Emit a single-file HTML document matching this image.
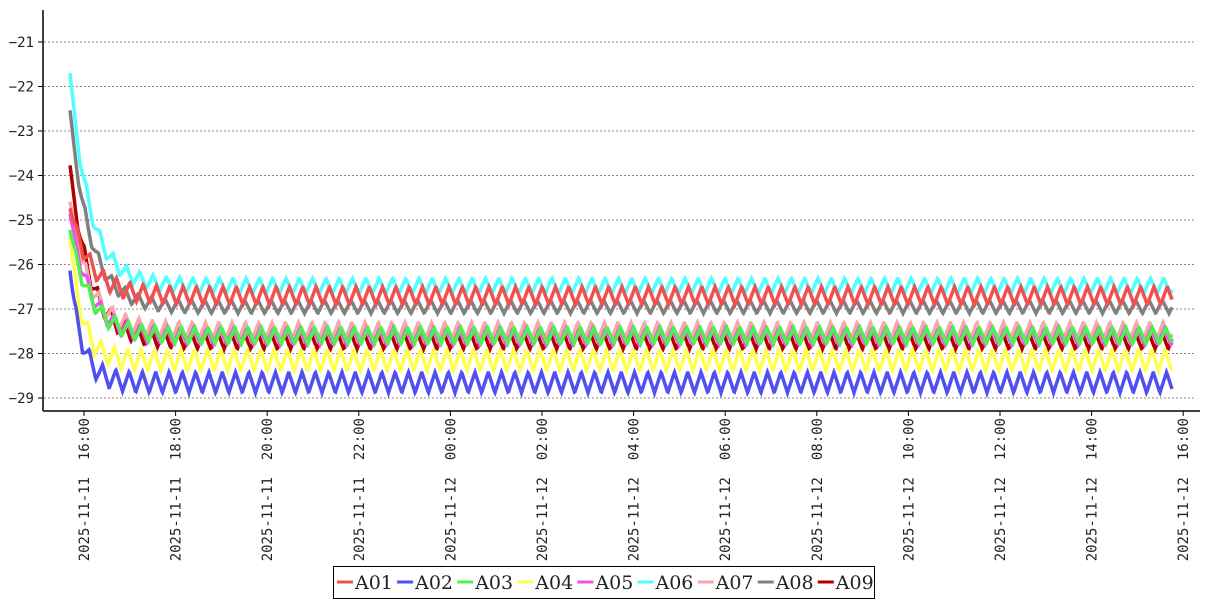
<!DOCTYPE html>
<html><head><meta charset="utf-8"><style>
html,body{margin:0;padding:0;background:#fff;width:1207px;height:600px;overflow:hidden}
svg text{font-family:"DejaVu Sans Mono","Liberation Mono",monospace;font-size:14px;fill:#222;white-space:pre}
</style></head><body>
<svg id="s" width="1207" height="600" xmlns="http://www.w3.org/2000/svg">
<g id="grid"></g>
<g id="series" fill="none" stroke-width="3.5" stroke-linejoin="miter"></g>
<line x1="43" y1="10" x2="43" y2="411" stroke="#000" stroke-width="1.5"/>
<line x1="43" y1="411" x2="1200" y2="411" stroke="#000" stroke-width="1.5"/>
<g id="ticks"></g>
<rect x="333.5" y="566.5" width="541" height="32" fill="#fff" stroke="#000"/>
<g id="legend"></g>
</svg>
<script>
var NS="http://www.w3.org/2000/svg";
function el(t,a,p,txt){var e=document.createElementNS(NS,t);for(var k in a)e.setAttribute(k,a[k]);if(txt!=null)e.textContent=txt;p.appendChild(e);return e;}
var grid=document.getElementById('grid'),ticks=document.getElementById('ticks');
function Y(v){return 42+(-21-v)*44.5;}
for(var v=-21;v>=-29;v--){var y=Y(v);
 el('line',{x1:44,y1:y,x2:1195,y2:y,stroke:'#888','stroke-dasharray':'2,2','stroke-width':1},grid);
 el('line',{x1:38,y1:y,x2:43,y2:y,stroke:'#000'},ticks);
 el('text',{x:34,y:y+5,'text-anchor':'end'},ticks,'\u2212'+(-v));}
var labels=["2025-11-11  16:00","2025-11-11  18:00","2025-11-11  20:00","2025-11-11  22:00","2025-11-12  00:00","2025-11-12  02:00","2025-11-12  04:00","2025-11-12  06:00","2025-11-12  08:00","2025-11-12  10:00","2025-11-12  12:00","2025-11-12  14:00","2025-11-12  16:00"];
for(var i=0;i<13;i++){var x=84+i*91.6;
 el('line',{x1:x,y1:411,x2:x,y2:416,stroke:'#000'},ticks);
 el('text',{x:0,y:0,'text-anchor':'end',transform:'translate('+(x+5)+',418) rotate(-90)'},ticks,labels[i]);}
var S=[
["A01","#f05050",-24.7,-26.7,0.2],
["A02","#5050f0",-26.1,-28.65,0.23],
["A03","#50f050",-25.2,-27.6,0.18],
["A04","#ffff50",-25.4,-28.15,0.23],
["A05","#f050f0",-24.85,-27.62,0.18],
["A06","#50ffff",-21.7,-26.48,0.17],
["A07","#f5aaaa",-24.6,-27.5,0.2],
["A08","#808080",-22.55,-26.95,0.15],
["A09","#b00000",-23.8,-27.7,0.2]];
var sg=document.getElementById('series');
var P=13.3;
var order=[8,7,6,5,4,3,2,1,0];
order.forEach(function(k){var s=S[k];var pts=[];
 for(var x=70;x<=1172;x+=0.5){var u=x-70;
  var tau=(k==1||k==3)?12:20;
  var base=s[3]+(s[2]-s[3])*Math.exp(-u/tau);
  var ph=((u+k*0.7)%P)/P;var tri=ph<0.5?(ph*4-1):(3-ph*4);
  var amp=s[4]*Math.min(1,u/15+0.2);
  var v=base+amp*tri;pts.push(x+','+Y(v).toFixed(1));}
 el('polyline',{points:pts.join(' '),stroke:s[1]},sg);});
var lg=document.getElementById('legend');var lx=337;
S.forEach(function(s){el('line',{x1:lx,y1:582,x2:lx+16,y2:582,stroke:s[1],'stroke-width':3},lg);
 var t=el('text',{x:lx+18,y:589},lg,s[0]);t.style.fontSize='19px';t.style.fontFamily='"DejaVu Serif","Liberation Serif",serif';lx+=60.1;});
</script>
</body></html>
